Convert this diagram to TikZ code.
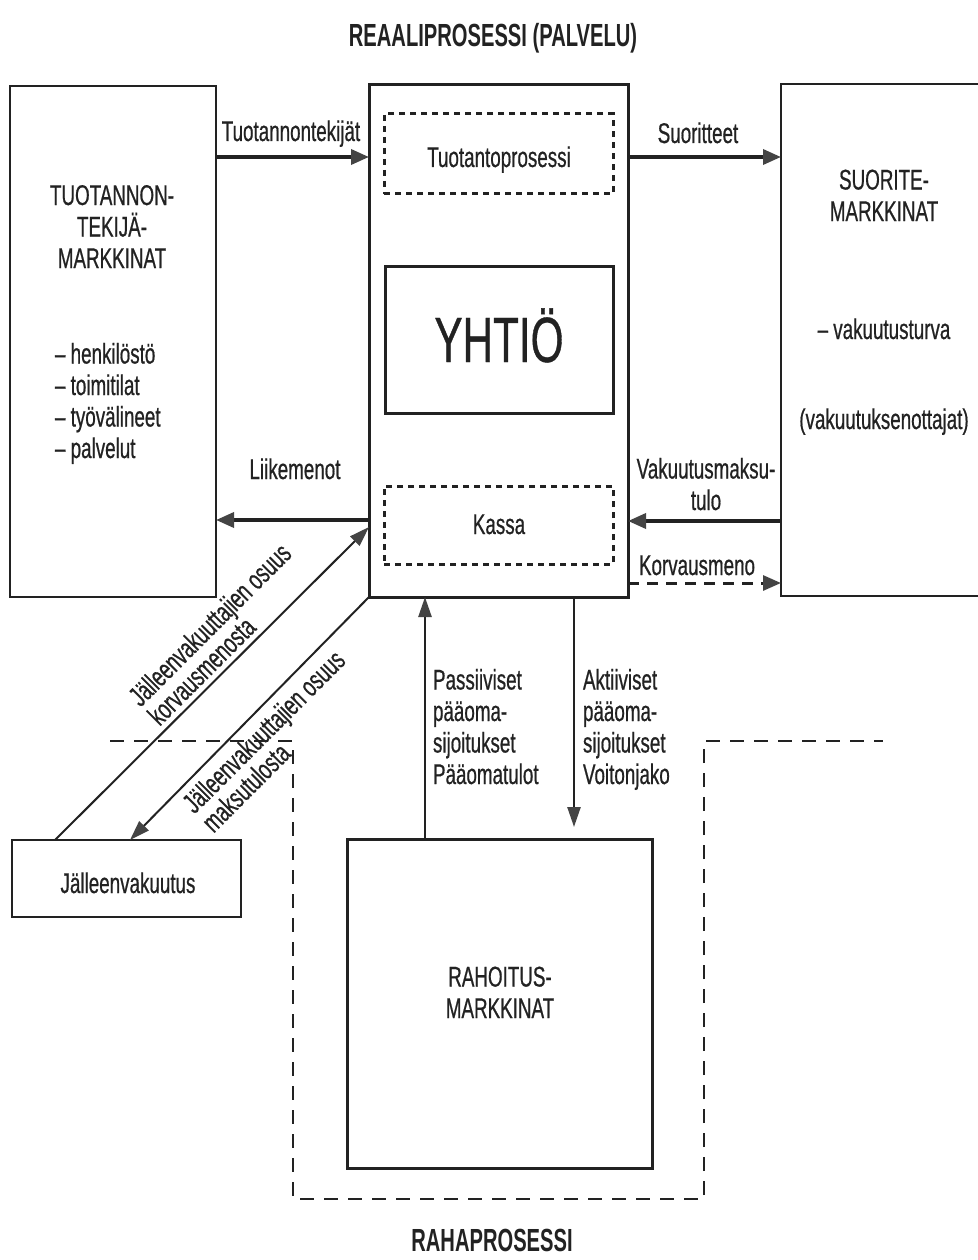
\documentclass[tikz,border=0pt]{standalone}
\usepackage{fontspec}
\setmainfont{Liberation Sans}[FakeStretch=0.66, FakeBold=0.6]
\newfontfamily\ttlfont{Liberation Sans Bold}[FakeStretch=0.63]
\usetikzlibrary{arrows.meta,calc}
\definecolor{ink}{HTML}{222222}
\definecolor{headc}{HTML}{444444}
\begin{document}
\begin{tikzpicture}[x=1pt,y=-1pt,
  lbl/.style={inner sep=0pt, outer sep=0pt, text=ink, font=\fontsize{28.5}{31.5}\selectfont},
  dlbl/.style={inner sep=0pt, outer sep=0pt, text=ink, font=\fontsize{28.5}{27}\selectfont, align=left, rotate=45},
  ttl/.style={inner sep=0pt, outer sep=0pt, text=ink, font=\ttlfont\fontsize{32}{32}\selectfont},
  bx/.style={draw=ink, line width=#1, inner sep=0pt, outer sep=0pt},
  dbox/.style={draw=ink, line width=3pt, dash pattern=on 6pt off 5pt, inner sep=0pt, outer sep=0pt},
  harr/.style={draw=ink, line width=3.5pt, -{Triangle[length=18pt,width=15pt,color=headc]}},
  varr/.style={draw=ink, line width=2.5pt, -{Triangle[length=20pt,width=13pt,color=headc]}},
  darr/.style={draw=ink, line width=2pt, -{Triangle[length=20pt,width=13pt,color=headc]}},
  karr/.style={draw=ink, line width=3pt, dash pattern=on 11pt off 8pt, -{Triangle[length=18pt,width=15pt,color=headc]}},
  bound/.style={draw=ink, line width=2.5pt, dash pattern=on 14pt off 10pt}
]
\useasboundingbox (0,0) rectangle (977,1260);
\fill[white] (0,0) rectangle (977,1260);

% titles
\node[ttl, anchor=base] (t1) at (493,47) {REAALIPROSESSI (PALVELU)};
\node[ttl, anchor=base] (t2) at (492,1251) {RAHAPROSESSI};

% boxes
\node[bx=2pt, minimum width=206pt, minimum height=511pt] (tm) at (113,341.5) {};
\node[bx=3pt, minimum width=259pt, minimum height=512pt] (yh) at (498.5,341) {};
\node[dbox, minimum width=229pt, minimum height=80pt] (tp) at (498.5,154) {};
\node[bx=3pt, minimum width=228pt, minimum height=147pt] (yb) at (499,339.5) {};
\node[dbox, minimum width=229pt, minimum height=78pt] (ks) at (498.5,525) {};
\node[bx=2pt, minimum width=214pt, minimum height=512pt] (sm) at (888,340) {};
\node[bx=2pt, minimum width=229pt, minimum height=77pt] (jv) at (126.5,878.5) {};
\node[bx=3pt, minimum width=305pt, minimum height=329pt] (rh) at (499.5,1003.5) {};

% texts in boxes (multi-line nodes: base = baseline of last line)
\node[lbl, anchor=base, align=center] (tmt) at (112,268) {TUOTANNON-\\TEKIJÄ-\\MARKKINAT};
\node[lbl, anchor=base west, align=left] (tml) at (55,458) {– henkilöstö\\– toimitilat\\– työvälineet\\– palvelut};
\node[lbl, anchor=base] (tpt) at (499,167) {Tuotantoprosessi};
\node[lbl, anchor=base, font=\fontsize{64}{64}\selectfont] (ybt) at (499,362) {YHTIÖ};
\node[lbl, anchor=base] (kst) at (499,534) {Kassa};
\node[lbl, anchor=base, align=center] (smt) at (884,221) {SUORITE-\\MARKKINAT};
\node[lbl, anchor=base] (smv) at (884,339) {– vakuutusturva};
\node[lbl, anchor=base] (smo) at (884,429) {(vakuutuksenottajat)};
\node[lbl, anchor=base] (jvt) at (128,893) {Jälleenvakuutus};
\node[lbl, anchor=base, align=center] (rht) at (500,1018) {RAHOITUS-\\MARKKINAT};

% arrow labels
\node[lbl, anchor=base] (a1) at (291,141) {Tuotannontekijät};
\node[lbl, anchor=base] (a2) at (698,143) {Suoritteet};
\node[lbl, anchor=base] (a3) at (295,479) {Liikemenot};
\node[lbl, anchor=base, align=center] (a4) at (706,510) {Vakuutusmaksu-\\tulo};
\node[lbl, anchor=base] (a5) at (697,575) {Korvausmeno};
\node[lbl, anchor=base west, align=left] (a6) at (433,784) {Passiiviset\\pääoma-\\sijoitukset\\Pääomatulot};
\node[lbl, anchor=base west, align=left] (a7) at (583,784) {Aktiiviset\\pääoma-\\sijoitukset\\Voitonjako};

% connectors
\draw[harr] (tm.east |- 0,157) -- (yh.west |- 0,157);
\draw[harr] (yh.east |- 0,157) -- (sm.west |- 0,157);
\draw[harr] (yh.west |- 0,520) -- (tm.east |- 0,520);
\draw[harr] (sm.west |- 0,521) -- (yh.east |- 0,521);
\draw[karr] (yh.east |- 0,583) -- (sm.west |- 0,583);
\draw[varr] (rh.north -| 425,0) -- (yh.south -| 425,0);
\coordinate (dtip) at (574,827);
\draw[varr] (yh.south -| 574,0) -- (dtip);
\draw[darr] ($(jv.north west)+(43,0)$) -- (yh.west |- 0,527);
\draw[darr] (yh.south west) -- ($(jv.north west)+(118,0)$);

% diagonal labels
\node[dlbl, anchor=south west] (d1) at (160,727) {Jälleenvakuuttajien osuus\\korvausmenosta};
\node[dlbl, anchor=north west] (d2) at (180,800) {Jälleenvakuuttajien osuus\\maksutulosta};

% money-process boundary
\draw[bound] (110,741) -- (293,741) -- (293,1199) -- (704,1199) -- (704,741) -- (883,741);
\end{tikzpicture}
\end{document}
